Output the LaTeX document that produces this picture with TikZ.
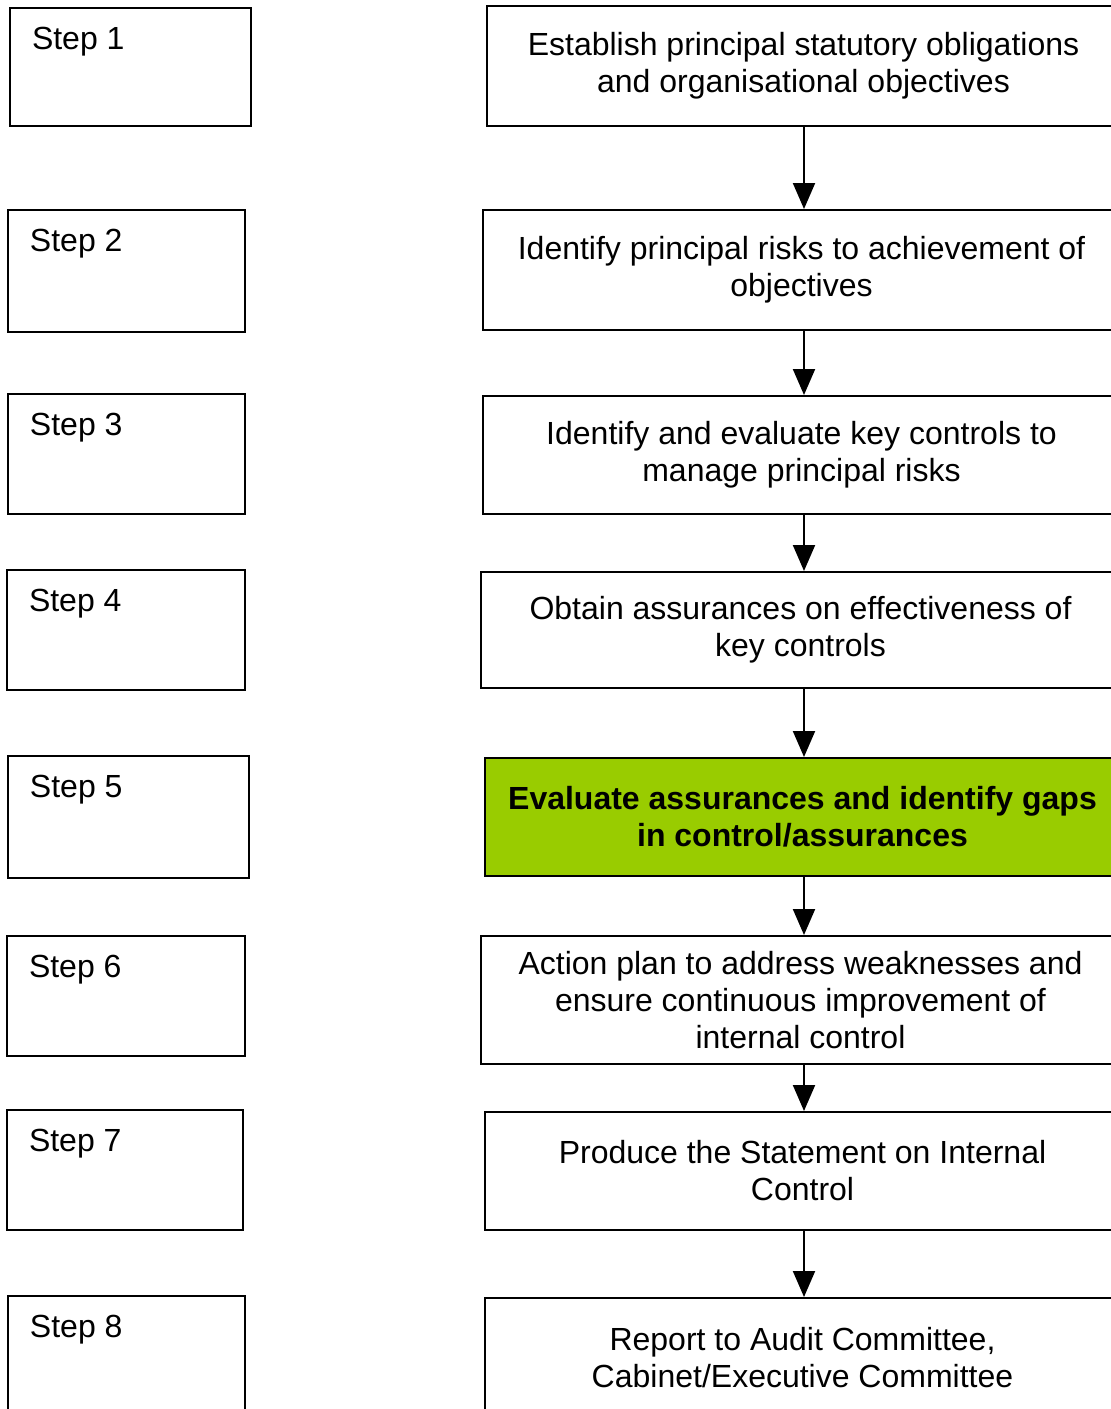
\documentclass[tikz,border=0pt]{standalone}
\usepackage{fontspec}
\setmainfont{Liberation Sans}
\usetikzlibrary{arrows.meta,positioning}
\definecolor{gapgreen}{HTML}{99CC00}

\begin{document}
\begin{tikzpicture}[x=1pt,y=-1pt,line width=2pt,
    >={Triangle[width=22pt,length=26pt]},
    every node/.style={font=\fontsize{32}{37}\selectfont},
    step frame/.style={draw,rectangle,inner sep=0pt},
    step text/.style={anchor=north west,inner sep=0pt},
    task node/.style={draw,rectangle,align=center,inner sep=0pt}]

  \clip (0,0) rectangle (1111,1409);

  % left column
  \node[step frame,minimum width=241pt,minimum height=118pt] (s1) at (130.5,67) {};
  \node[step frame,minimum width=237pt,minimum height=122pt] (s2) at (126.5,271) {};
  \node[step frame,minimum width=237pt,minimum height=120pt] (s3) at (126.5,454) {};
  \node[step frame,minimum width=238pt,minimum height=120pt] (s4) at (126,630) {};
  \node[step frame,minimum width=241pt,minimum height=122pt] (s5) at (128.5,817) {};
  \node[step frame,minimum width=238pt,minimum height=120pt] (s6) at (126,996) {};
  \node[step frame,minimum width=236pt,minimum height=120pt] (s7) at (125,1170) {};
  \node[step frame,minimum width=237pt,minimum height=120pt] (s8) at (126.5,1356) {};

  \foreach \n in {1,...,8}
    \node[step text] (st\n) at ([shift={(22,19)}]s\n.north west) {Step \n};

  % right column
  \node[task node,minimum width=633pt,minimum height=120pt] (r1) at (803.5,66)
    {Establish principal statutory obligations\\and organisational objectives};
  \node[task node,minimum width=637pt,minimum height=120pt] (r2) at (801.5,270)
    {Identify principal risks to achievement of\\objectives};
  \node[task node,minimum width=637pt,minimum height=118pt] (r3) at (801.5,455)
    {Identify and evaluate key controls to\\manage principal risks};
  \node[task node,minimum width=639pt,minimum height=116pt] (r4) at (800.5,630)
    {Obtain assurances on effectiveness of\\key controls};
  \node[task node,fill=gapgreen,font=\fontsize{32}{37}\selectfont\bfseries,
    minimum width=635pt,minimum height=118pt] (r5) at (802.5,817)
    {Evaluate assurances and identify gaps\\in control/assurances};
  \node[task node,minimum width=639pt,minimum height=128pt] (r6) at (800.5,1000)
    {Action plan to address weaknesses and\\ensure continuous improvement of\\internal control};
  \node[task node,minimum width=635pt,minimum height=118pt] (r7) at (802.5,1171)
    {Produce the Statement on Internal\\Control};
  \node[task node,minimum width=635pt,minimum height=120pt] (r8) at (802.5,1358)
    {Report to Audit Committee,\\Cabinet/Executive Committee};

  % arrows all run down one vertical line
  \coordinate (spine) at (804,0);
  \draw[->] (r1.south -| spine) -- (r2.north -| spine);
  \draw[->] (r2.south -| spine) -- (r3.north -| spine);
  \draw[->] (r3.south -| spine) -- (r4.north -| spine);
  \draw[->] (r4.south -| spine) -- (r5.north -| spine);
  \draw[->] (r5.south -| spine) -- (r6.north -| spine);
  \draw[->] (r6.south -| spine) -- (r7.north -| spine);
  \draw[->] (r7.south -| spine) -- (r8.north -| spine);

\end{tikzpicture}
\end{document}
